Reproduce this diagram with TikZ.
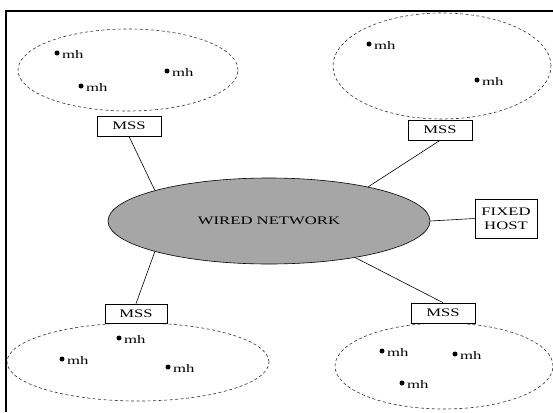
\documentclass[tikz,border=0pt]{standalone}
\usepackage{fontspec}
\setmainfont[FakeStretch=1.45]{Liberation Serif}
\usetikzlibrary{shapes.geometric}
\definecolor{netgray}{HTML}{A6A6A6}
\definecolor{cellline}{HTML}{333333}
\tikzset{
  cell/.style={ellipse, draw=cellline, line width=0.6pt, dash pattern=on 3pt off 2.5pt, inner sep=0pt},
  station/.style={draw, line width=0.7pt, fill=white, inner sep=0pt, minimum width=64pt, minimum height=20pt},
  mobile/.style={circle, fill=black, inner sep=0pt, minimum size=5pt,
    label={[label distance=-1pt, yshift=-2pt]right:mh}},
  link/.style={line width=0.6pt}
}
\begin{document}
\begin{tikzpicture}[x=1pt, y=-1pt, font=\fontsize{11.5}{14}\selectfont]
\useasboundingbox (0,0) rectangle (553,412);
\clip (0,0) rectangle (553,412);

% partial frame
\draw[line width=2pt] (6,412) -- (6,11) -- (553,11);

% wireless cells
\node[cell, minimum width=220pt, minimum height=82pt]  (cellTL) at (128,70) {};
\node[cell, minimum width=218pt, minimum height=106pt] (cellTR) at (442,66) {};
\node[cell, minimum width=262pt, minimum height=78pt]  (cellBL) at (138,362) {};
\node[cell, minimum width=218pt, minimum height=86pt]  (cellBR) at (444,366) {};

% mobile hosts
\node[mobile] (mh1) at (57,53) {};
\node[mobile] (mh2) at (167,71) {};
\node[mobile] (mh3) at (81,86) {};
\node[mobile] (mh4) at (369,44) {};
\node[mobile] (mh5) at (477,80) {};
\node[mobile] (mh6) at (119,338) {};
\node[mobile] (mh7) at (62,359) {};
\node[mobile] (mh8) at (168,367) {};
\node[mobile] (mh9) at (382,351) {};
\node[mobile] (mh10) at (455,354) {};
\node[mobile] (mh11) at (402,383) {};

% backbone
\node[ellipse, draw, fill=netgray, line width=0.6pt, inner sep=0pt,
      minimum width=322pt, minimum height=86pt] (wired) at (269,221) {WIRED NETWORK};

% support stations and fixed host
\node[station] (mssTL) at (129,126) {MSS};
\node[station] (mssTR) at (440,130) {MSS};
\node[station, minimum width=62pt, minimum height=19pt] (mssBL) at (136,313.5) {MSS};
\node[station] (mssBR) at (443,313) {MSS};
\node[station, minimum width=62pt, minimum height=39pt, align=center] (fixed) at (506,218.5) {FIXED\\HOST};

% links
\draw[link] (mssTL.south) -- (wired.165.5);
\draw[link] (mssTR.south) -- (wired.19.6);
\draw[link] (mssBL.north) -- (wired.195.9);
\draw[link] (mssBR.north) -- (wired.337.4);
\draw[link] (wired.east) -- (fixed.west);
\end{tikzpicture}
\end{document}
